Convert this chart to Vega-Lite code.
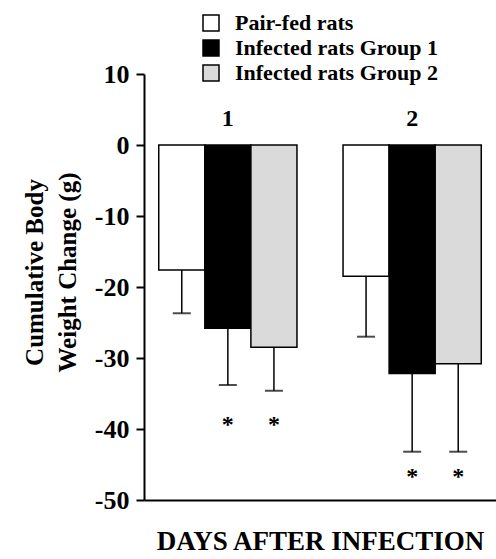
{
  "$schema": "https://vega.github.io/schema/vega-lite/v6.json",
  "autosize": "none",
  "width": 352,
  "height": 426,
  "padding": {"left": 144, "top": 74, "right": 0, "bottom": 59},
  "background": "white",
  "config": {
    "view": {"stroke": null},
    "font": "Liberation Serif",
    "axis": {"labelFont": "Liberation Serif", "titleFont": "Liberation Serif", "labelFontWeight": "bold", "titleFontWeight": "bold", "labelColor": "black", "titleColor": "black", "domainColor": "black", "tickColor": "black"},
    "legend": {"labelFont": "Liberation Serif", "labelFontWeight": "bold"}
  },
  "data": {
    "values": [
      {"day": "1", "group": "Pair-fed rats", "value": -17.6, "low": -23.7, "star": null},
      {"day": "1", "group": "Infected rats Group 1", "value": -25.8, "low": -33.8, "star": -38.7},
      {"day": "1", "group": "Infected rats Group 2", "value": -28.5, "low": -34.6, "star": -38.7},
      {"day": "2", "group": "Pair-fed rats", "value": -18.5, "low": -27.0, "star": null},
      {"day": "2", "group": "Infected rats Group 1", "value": -32.2, "low": -43.2, "star": -46.1},
      {"day": "2", "group": "Infected rats Group 2", "value": -30.8, "low": -43.2, "star": -46.1}
    ]
  },
  "encoding": {
    "x": {
      "field": "day", "type": "nominal",
      "scale": {"domain": ["1", "2"], "paddingInner": 0.25, "paddingOuter": 0.08},
      "axis": {"labels": false, "ticks": false, "domain": true, "domainWidth": 2, "title": "DAYS AFTER INFECTION", "titleFontSize": 27, "titlePadding": 28}
    }
  },
  "layer": [
    {
      "mark": {"type": "bar", "stroke": "black", "strokeWidth": 1.5},
      "encoding": {
        "xOffset": {"field": "group", "type": "nominal", "scale": {"domain": ["Pair-fed rats", "Infected rats Group 1", "Infected rats Group 2"], "paddingInner": 0, "paddingOuter": 0}},
        "y": {
          "field": "value", "type": "quantitative",
          "scale": {"domain": [-50, 10], "nice": false, "zero": false},
          "axis": {"values": [-50, -40, -30, -20, -10, 0, 10], "labelExpr": "'' + datum.value", "grid": false, "tickSize": 8, "tickWidth": 2, "domainWidth": 2, "labelFontSize": 26, "labelPadding": 7, "title": ["Cumulative Body", "Weight Change (g)"], "titleFontSize": 25, "titleLineHeight": 33, "titlePadding": 14, "titleY": 198}
        },
        "fill": {
          "field": "group", "type": "nominal",
          "scale": {"domain": ["Pair-fed rats", "Infected rats Group 1", "Infected rats Group 2"], "range": ["white", "black", "#dadada"]},
          "legend": {"title": null, "orient": "none", "legendX": 56, "legendY": -62, "symbolType": "square", "symbolSize": 256, "symbolStrokeColor": "black", "symbolStrokeWidth": 1.5, "labelFontSize": 22, "labelOffset": 13, "labelLimit": 400, "rowPadding": 3, "labelColor": "black"}
        }
      }
    },
    {
      "mark": {"type": "rule", "color": "black", "strokeWidth": 1.5},
      "encoding": {
        "xOffset": {"field": "group", "type": "nominal"},
        "y": {"field": "value", "type": "quantitative"},
        "y2": {"field": "low"}
      }
    },
    {
      "mark": {"type": "tick", "orient": "horizontal", "color": "black", "thickness": 2, "size": 18},
      "encoding": {
        "xOffset": {"field": "group", "type": "nominal"},
        "y": {"field": "low", "type": "quantitative"}
      }
    },
    {
      "transform": [{"filter": "datum.star != null"}],
      "mark": {"type": "text", "text": "*", "fontSize": 24, "fontWeight": "bold", "baseline": "middle", "dy": 5, "color": "black"},
      "encoding": {
        "xOffset": {"field": "group", "type": "nominal"},
        "y": {"field": "star", "type": "quantitative"}
      }
    },
    {
      "transform": [{"filter": "datum.group === 'Pair-fed rats'"}],
      "mark": {"type": "text", "fontSize": 24, "fontWeight": "bold", "baseline": "middle", "color": "black"},
      "encoding": {
        "text": {"field": "day"},
        "y": {"datum": 3.7}
      }
    },
    {
      "mark": {"type": "rule", "color": "black", "strokeWidth": 2},
      "encoding": {"y": {"datum": 0}}
    }
  ]
}
